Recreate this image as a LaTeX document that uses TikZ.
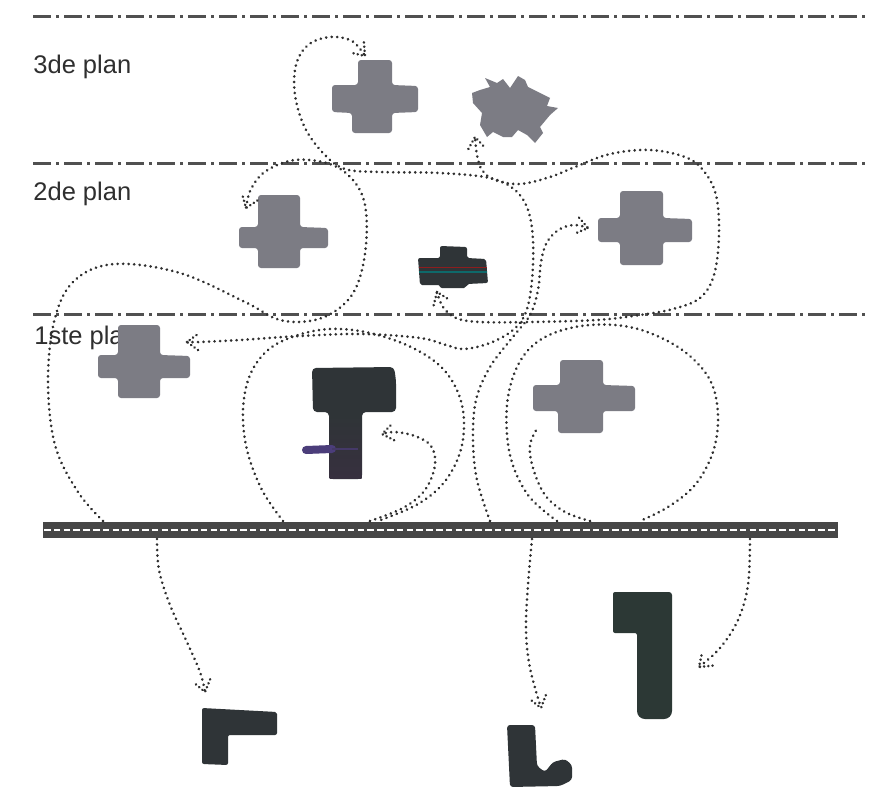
\documentclass[tikz,border=0pt]{standalone}
\usepackage{fontspec}
\setmainfont{Liberation Sans}
\usetikzlibrary{decorations.markings}
\definecolor{crossc}{HTML}{7C7C84}
\definecolor{darkc}{HTML}{2F3437}
\definecolor{dotc}{HTML}{2E2E2E}
\definecolor{planec}{HTML}{505050}
\definecolor{roadc}{HTML}{474747}
\definecolor{labelc}{HTML}{2F2F2F}
\definecolor{handlec}{HTML}{4B3D7A}
\definecolor{stemc}{HTML}{37303F}
\definecolor{onec}{HTML}{2C3835}
\begin{document}
\begin{tikzpicture}[x=0.5pt,y=-0.5pt,
  lbl/.style={font=\fontsize{12.75}{15}\selectfont, text=labelc, inner sep=0pt, anchor=base west},
  planeline/.style={draw=planec, line width=1.5pt, dash pattern=on 9pt off 2.5pt on 1.5pt off 2.5pt},
  conn/.style={draw=dotc, line width=1.45pt, line cap=round, dash pattern=on 0.01pt off 2.75pt},
  headv/.style={draw=dotc, line width=1.4pt, line cap=round, dash pattern=on 0.01pt off 2.1pt},
  headat/.style={postaction={decorate,decoration={markings,mark=at position 1 with {\draw[headv] (-11,-8) -- (0,0) -- (-11,8);}}}},
  grayshape/.style={fill=crossc, rounded corners=1.5pt},
  darkshape/.style={fill=darkc, rounded corners=1pt}
]
\useasboundingbox (0,0) rectangle (879,787);
\fill[white] (0,0) rectangle (879,787);

% labels
\node[lbl] (t3) at (33,73) {3de plan};
\node[lbl] (t2) at (33,200) {2de plan};
\node[lbl] (t1) at (34,344) {1ste plan};

% plan lines
\draw[planeline] (33,16) -- (865,16);
\draw[planeline] (33,163) -- (865,163);
\draw[planeline] (33,314) -- (865,314);

% road
\fill[roadc] (43,522) rectangle (838,538);
\draw[white, line width=1.1pt, dash pattern=on 3.3pt off 1.6pt] (44,530) -- (838,530);

% gray crosses
\fill[grayshape] (358,60) -- (392,60) -- (392,85) -- (418,86) -- (418,112) -- (392,113) -- (392,133) -- (352,133) -- (352,113) -- (332,112) -- (332,85) -- (358,85) -- cycle;
\fill[grayshape] (258,195) -- (300,195) -- (300,227) -- (328,228) -- (328,248) -- (300,248) -- (300,268) -- (258,268) -- (258,248) -- (239,248) -- (239,227) -- (258,227) -- cycle;
\fill[grayshape] (620,191) -- (663,191) -- (663,218) -- (692,219) -- (692,242) -- (663,242) -- (663,265) -- (620,265) -- (620,242) -- (598,242) -- (598,218) -- (620,218) -- cycle;
\fill[grayshape] (118,325) -- (160,325) -- (160,355) -- (190,356) -- (190,378) -- (160,378) -- (160,398) -- (118,398) -- (118,378) -- (98,378) -- (98,355) -- (118,355) -- cycle;
\fill[grayshape] (560,360) -- (603,360) -- (603,385) -- (635,386) -- (635,411) -- (603,411) -- (603,433) -- (558,433) -- (558,411) -- (533,411) -- (533,385) -- (560,385) -- cycle;
% star
\fill[crossc] (485,78) -- (497,83) -- (503,79) -- (510,88) -- (518,76) -- (525,80) -- (528,87) -- (540,93) -- (550,98) -- (547,106) -- (558,108) -- (550,115) -- (540,127) -- (543,133) -- (535,143) -- (527,135) -- (518,130) -- (512,137) -- (503,137) -- (493,132) -- (487,137) -- (480,125) -- (482,113) -- (473,103) -- (472,93) -- (480,90) -- (490,87) -- cycle;

% small dark block
\fill[darkshape] (440,246) -- (467,247) -- (467,258) -- (486,259) -- (488,283) -- (467,284) -- (466,288) -- (440,288) -- (440,285) -- (420,285) -- (418,258) -- (440,258) -- cycle;
\draw[red!45!darkc, line width=0.4pt] (419,267) -- (487,267);
\draw[teal!70!darkc, line width=0.75pt] (419,272) -- (487,272);

% T shape
\fill[darkc, rounded corners=2pt] (312,368) -- (394,367) -- (396,380) -- (396,412) -- (362,412) -- (362,479) -- (329,479) -- (329,412) -- (313,412) -- cycle;
\shade[top color=darkc, bottom color=stemc] (329.5,415) rectangle (361.5,478);
\draw[handlec, line width=4pt, line cap=round] (306,450) -- (332,449);
\draw[handlec!70!stemc, line width=0.75pt] (332,449) -- (358,449);

% bottom shapes
\fill[darkshape] (202,708) -- (277,712) -- (277,735) -- (228,735) -- (228,765) -- (202,764) -- cycle;
\fill[darkc, rounded corners=1.5pt] (507,725) -- (535,725) -- (537,766) -- (545,772) -- (553,762) -- (565,759) -- (572,765) -- (572,780) -- (560,786) -- (510,787) -- cycle;
\fill[onec, rounded corners=1.5pt] (613,592) -- (672,592) -- (672,705) [rounded corners=4pt] -- (672,719) -- (637,719) [rounded corners=1pt] -- (637,633) -- (613,633) -- cycle;

% connector end points
\coordinate (rB) at (103,521);
\coordinate (hB) at (246,208);
\coordinate (hD) at (187,342);
\coordinate (hA) at (365,56);
\coordinate (rT1) at (283,521);
\coordinate (rT2) at (378,521);
\coordinate (rT3) at (370,521);
\coordinate (hT) at (382,434);
\coordinate (rC) at (490,521);
\coordinate (hC) at (588,228);
\coordinate (rE1) at (557,521);
\coordinate (rE2) at (640,521);
\coordinate (rE3) at (590,521);
\coordinate (hE) at (538,427);
\coordinate (hK) at (437,292);
\coordinate (hS) at (475,137);
\coordinate (rL) at (157,539);
\coordinate (hL) at (205,692);
\coordinate (rBt) at (532,539);
\coordinate (hBt) at (541,708);
\coordinate (rO) at (750,539);
\coordinate (hO) at (699,667);

% dotted connectors
\draw[conn] plot[smooth, tension=0.6] coordinates {(rB) (78,492) (55,445) (48,380) (55,318) (75,280) (115,264) (180,273) (245,302) (280,320) (315,320) (342,306) (358,283) (366,245) (365,205) (353,180) (330,164) (295,160) (266,171) (251,189) (hB)};
\draw[conn] plot[smooth, tension=0.6] coordinates {(hD) (200,342) (240,340) (300,336) (362,334) (420,338) (446,345) (464,349) (490,343) (513,330) (526,312) (532,280) (533,240) (528,210) (515,190) (490,178) (440,173) (380,172) (345,169) (324,154) (305,128) (295,95) (296,65) (308,45) (330,37) (352,41) (hA)};
\draw[conn] plot[smooth, tension=0.6] coordinates {(rT1) (262,490) (247,450) (243,410) (250,375) (268,350) (295,336) (330,329) (370,333) (413,348) (445,371) (462,405) (462,445) (446,480) (418,504) (rT2)};
\draw[conn] plot[smooth, tension=0.6] coordinates {(rT3) (403,508) (425,490) (435,465) (431,446) (415,436) (395,432) (hT)};
\draw[conn] plot[smooth, tension=0.6] coordinates {(rC) (477,480) (473,440) (476,400) (490,367) (512,338) (530,315) (538,290) (541,262) (547,242) (560,229) (575,225) (hC)};
\draw[conn] plot[smooth, tension=0.6] coordinates {(rE1) (528,495) (510,455) (507,405) (518,365) (540,340) (575,327) (615,325) (650,333) (685,352) (710,380) (718,415) (713,452) (695,485) (668,507) (rE2)};
\draw[conn] plot[smooth, tension=0.6] coordinates {(rE3) (565,512) (545,495) (533,468) (530,445) (hE)};
\draw[conn] plot[smooth, tension=0.6] coordinates {(hK) (443,307) (456,318) (480,322) (530,322) (597,320) (640,315) (673,309) (700,298) (714,275) (719,235) (716,195) (703,170) (685,157) (650,150) (610,154) (575,167) (550,177) (520,184) (495,180) (482,170) (477,155) (hS)};
\draw[conn] plot[smooth, tension=0.6] coordinates {(rL) (159,570) (170,605) (186,640) (200,672) (hL)};
\draw[conn] plot[smooth, tension=0.6] coordinates {(rBt) (528,585) (526,630) (530,668) (hBt)};
\draw[conn] plot[smooth, tension=0.6] coordinates {(rO) (748,585) (738,620) (720,648) (hO)};

% arrowheads
\path[headat] (252,192) -- (hB);
\path[headat] (200,342) -- (hD);
\path[headat] (353,42) -- (hA);
\path[headat] (395,432) -- (hT);
\path[headat] (575,225) -- (hC);
\path[headat] (443,307) -- (hK);
\path[headat] (477,153) -- (hS);
\path[headat] (200,672) -- (hL);
\path[headat] (531,672) -- (hBt);
\path[headat] (718,650) -- (hO);
\end{tikzpicture}
\end{document}
